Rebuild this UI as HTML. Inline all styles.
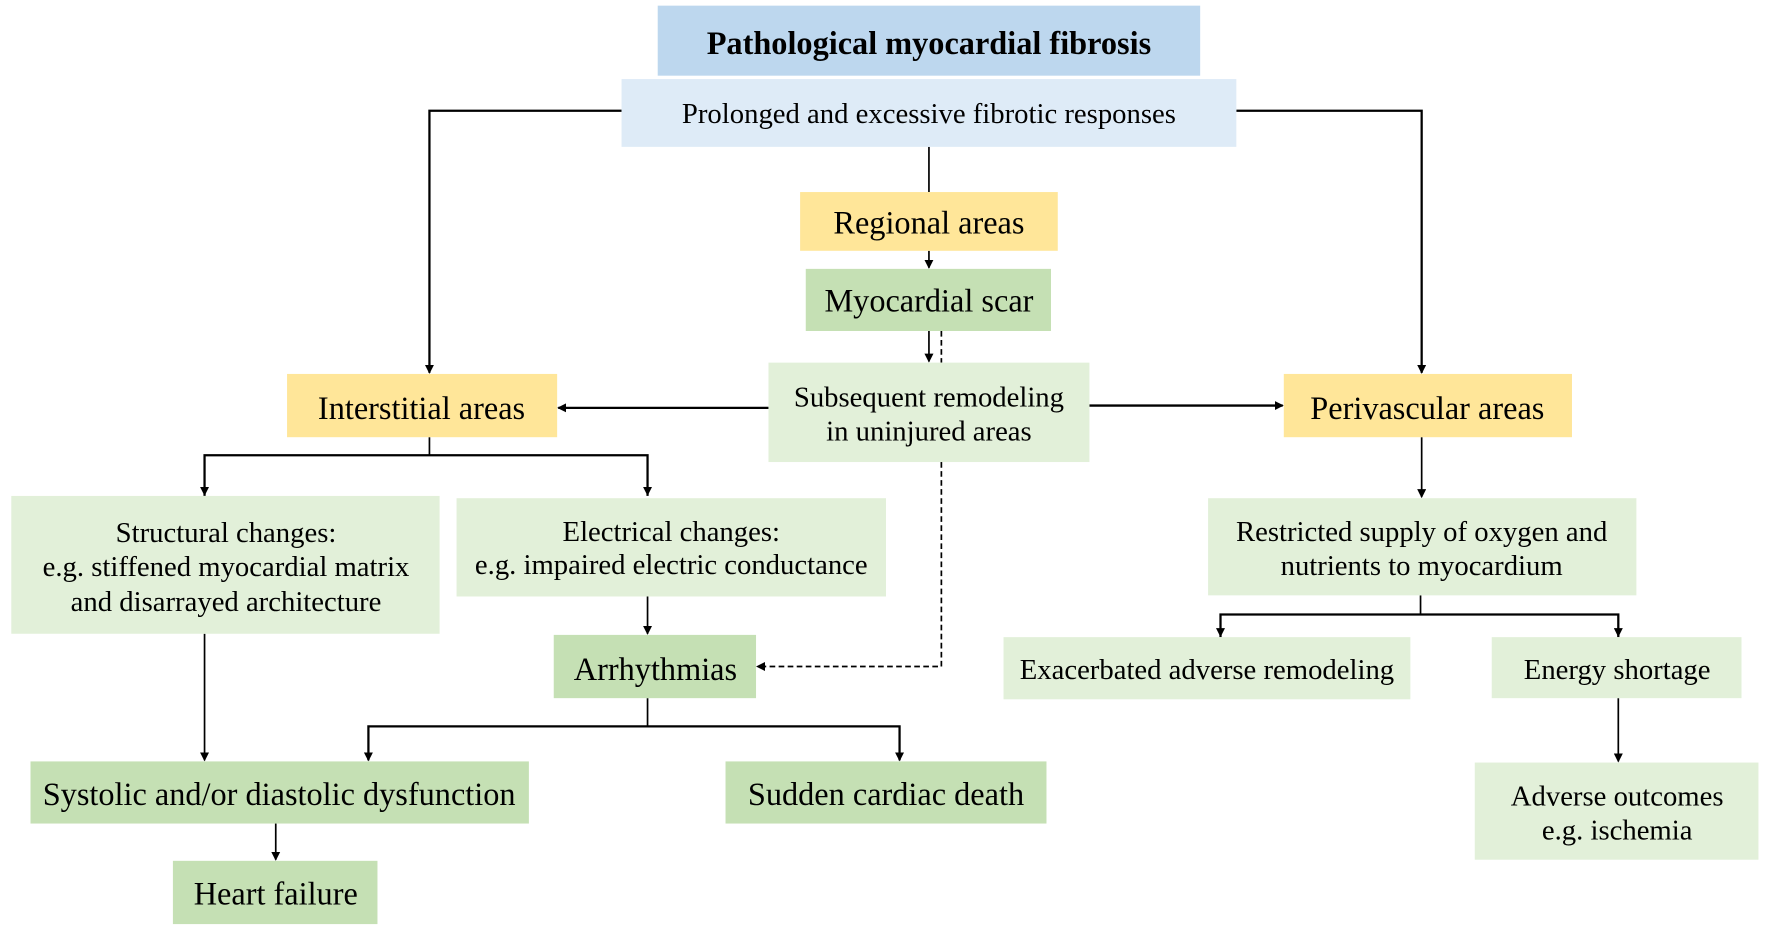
<!DOCTYPE html>
<html><head><meta charset="utf-8"><style>
html,body{margin:0;padding:0;background:#fff;}
svg{display:block;}
text{font-family:"Liberation Serif",serif;fill:#000;text-anchor:middle;dominant-baseline:central;}
.t20{font-size:25.4px}.t24{font-size:28.6px}
</style></head><body>
<svg width="1772" height="932" viewBox="0 0 1568 825" preserveAspectRatio="none">
<defs><marker id="a" markerWidth="8" markerHeight="8" refX="7" refY="4" orient="auto" markerUnits="userSpaceOnUse"><path d="M0,0 L8,4 L0,8 Z" fill="#000"/></marker></defs>
<g fill="none" stroke="#000" stroke-width="1.5">
<path d="M550,98 H380 V330" marker-end="url(#a)" stroke-width="2"/>
<path d="M1094,98 H1258 V330" marker-end="url(#a)" stroke-width="2"/>
<path d="M822,130 V170"/>
<path d="M822,222 V237" marker-end="url(#a)"/>
<path d="M822,293 V320" marker-end="url(#a)"/>
<path d="M833,293 V321" stroke-dasharray="5,3"/>
<path d="M833,409 V590 H670" stroke-dasharray="5,3" marker-end="url(#a)"/>
<path d="M680,361 H494" marker-end="url(#a)" stroke-width="2"/>
<path d="M964,359 H1135" marker-end="url(#a)" stroke-width="2"/>
<path d="M380,387 V403"/>
<path d="M181,439 V403 H573 V439" stroke-width="2"/>
<path d="M181,415 V438" marker-end="url(#a)"/><path d="M573,415 V438" marker-end="url(#a)"/>
<path d="M181,561 V673" marker-end="url(#a)"/>
<path d="M573,528 V561" marker-end="url(#a)"/>
<path d="M573,618 V643"/>
<path d="M326,673 V643 H796 V673" stroke-width="2"/>
<path d="M326,655 V673" marker-end="url(#a)"/><path d="M796,655 V673" marker-end="url(#a)"/>
<path d="M244,729 V761" marker-end="url(#a)"/>
<path d="M1258,387 V440" marker-end="url(#a)"/>
<path d="M1257,527 V544"/>
<path d="M1080,564 V544 H1432 V564" stroke-width="2"/>
<path d="M1080,555 V563" marker-end="url(#a)"/><path d="M1432,555 V563" marker-end="url(#a)"/>
<path d="M1432,618 V674" marker-end="url(#a)"/>
</g>
<rect x="582" y="5" width="480" height="62" fill="#bdd7ee"/>
<rect x="550" y="70" width="544" height="60" fill="#deebf7"/>
<rect x="708" y="170" width="228" height="52" fill="#ffe699"/>
<rect x="713" y="238" width="217" height="55" fill="#c5e0b4"/>
<rect x="680" y="321" width="284" height="88" fill="#e2f0d9"/>
<rect x="254" y="331" width="239" height="56" fill="#ffe699"/>
<rect x="1136" y="331" width="255" height="56" fill="#ffe699"/>
<rect x="10" y="439" width="379" height="122" fill="#e2f0d9"/>
<rect x="404" y="441" width="380" height="87" fill="#e2f0d9"/>
<rect x="1069" y="441" width="379" height="86" fill="#e2f0d9"/>
<rect x="490" y="562" width="179" height="56" fill="#c5e0b4"/>
<rect x="888" y="564" width="360" height="55" fill="#e2f0d9"/>
<rect x="1320" y="564" width="221" height="54" fill="#e2f0d9"/>
<rect x="27" y="674" width="441" height="55" fill="#c5e0b4"/>
<rect x="642" y="674" width="284" height="55" fill="#c5e0b4"/>
<rect x="1305" y="675" width="251" height="86" fill="#e2f0d9"/>
<rect x="153" y="762" width="181" height="56" fill="#c5e0b4"/>
<text x="822" y="38" class="t24" font-weight="bold">Pathological myocardial fibrosis</text>
<text x="822" y="101" class="t20">Prolonged and excessive fibrotic responses</text>
<text x="822" y="197" class="t24">Regional areas</text>
<text x="822" y="266" class="t24">Myocardial scar</text>
<text x="822" y="352" class="t20">Subsequent remodeling</text>
<text x="822" y="382" class="t20">in uninjured areas</text>
<text x="373" y="361" class="t24">Interstitial areas</text>
<text x="1263" y="361" class="t24">Perivascular areas</text>
<text x="200" y="472" class="t20">Structural changes:</text>
<text x="200" y="502" class="t20">e.g. stiffened myocardial matrix</text>
<text x="200" y="533" class="t20">and disarrayed architecture</text>
<text x="594" y="471" class="t20">Electrical changes:</text>
<text x="594" y="500" class="t20">e.g. impaired electric conductance</text>
<text x="1258" y="471" class="t20">Restricted supply of oxygen and</text>
<text x="1258" y="501" class="t20">nutrients to myocardium</text>
<text x="580" y="592" class="t24">Arrhythmias</text>
<text x="1068" y="593" class="t20">Exacerbated adverse remodeling</text>
<text x="1431" y="593" class="t20">Energy shortage</text>
<text x="247" y="703" class="t24">Systolic and/or diastolic dysfunction</text>
<text x="784" y="703" class="t24">Sudden cardiac death</text>
<text x="1431" y="705" class="t20">Adverse outcomes</text>
<text x="1431" y="735" class="t20">e.g. ischemia</text>
<text x="244" y="791" class="t24">Heart failure</text>
</svg>
</body></html>
